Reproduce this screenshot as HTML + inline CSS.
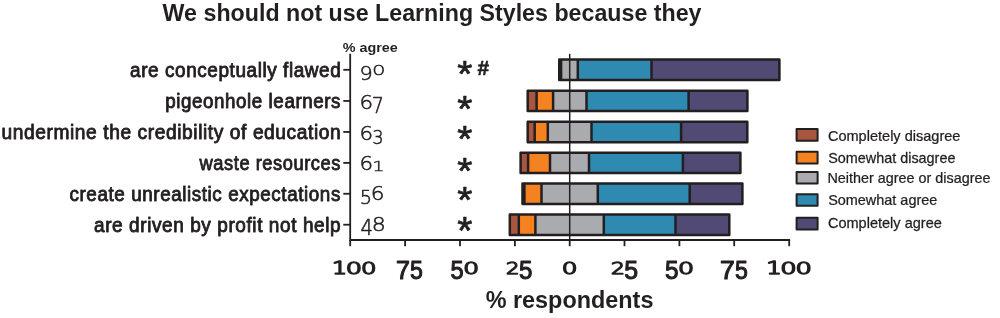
<!DOCTYPE html>
<html><head><meta charset="utf-8"><title>We should not use Learning Styles because they</title>
<style>html,body{margin:0;padding:0;background:#fff}svg{display:block}text{fill:#231f20}</style></head>
<body><svg width="1000" height="318" viewBox="0 0 1000 318">
<rect width="1000" height="318" fill="#fff"/>
<rect x="559.25" y="59.60" width="1.35" height="20.40" fill="#a8563f"/>
<rect x="560.60" y="59.60" width="0.50" height="20.40" fill="#f58220"/>
<rect x="561.10" y="59.60" width="16.70" height="20.40" fill="#a9abae"/>
<rect x="577.80" y="59.60" width="73.70" height="20.40" fill="#2e8ab0"/>
<rect x="651.50" y="59.60" width="127.90" height="20.40" fill="#514a75"/>
<line x1="560.60" y1="59.60" x2="560.60" y2="80.00" stroke="#231f20" stroke-width="2.5"/>
<line x1="561.10" y1="59.60" x2="561.10" y2="80.00" stroke="#231f20" stroke-width="2.5"/>
<line x1="577.80" y1="59.60" x2="577.80" y2="80.00" stroke="#231f20" stroke-width="2.5"/>
<line x1="651.50" y1="59.60" x2="651.50" y2="80.00" stroke="#231f20" stroke-width="2.5"/>
<rect x="559.25" y="59.60" width="220.15" height="20.40" fill="none" stroke="#231f20" stroke-width="2.5" stroke-linejoin="round"/>
<rect x="527.70" y="90.80" width="8.90" height="20.30" fill="#a8563f"/>
<rect x="536.60" y="90.80" width="16.50" height="20.30" fill="#f58220"/>
<rect x="553.10" y="90.80" width="33.40" height="20.30" fill="#a9abae"/>
<rect x="586.50" y="90.80" width="102.10" height="20.30" fill="#2e8ab0"/>
<rect x="688.60" y="90.80" width="58.80" height="20.30" fill="#514a75"/>
<line x1="536.60" y1="90.80" x2="536.60" y2="111.10" stroke="#231f20" stroke-width="2.5"/>
<line x1="553.10" y1="90.80" x2="553.10" y2="111.10" stroke="#231f20" stroke-width="2.5"/>
<line x1="586.50" y1="90.80" x2="586.50" y2="111.10" stroke="#231f20" stroke-width="2.5"/>
<line x1="688.60" y1="90.80" x2="688.60" y2="111.10" stroke="#231f20" stroke-width="2.5"/>
<rect x="527.70" y="90.80" width="219.70" height="20.30" fill="none" stroke="#231f20" stroke-width="2.5" stroke-linejoin="round"/>
<rect x="527.70" y="121.70" width="7.00" height="20.50" fill="#a8563f"/>
<rect x="534.70" y="121.70" width="13.10" height="20.50" fill="#f58220"/>
<rect x="547.80" y="121.70" width="43.70" height="20.50" fill="#a9abae"/>
<rect x="591.50" y="121.70" width="89.60" height="20.50" fill="#2e8ab0"/>
<rect x="681.10" y="121.70" width="66.20" height="20.50" fill="#514a75"/>
<line x1="534.70" y1="121.70" x2="534.70" y2="142.20" stroke="#231f20" stroke-width="2.5"/>
<line x1="547.80" y1="121.70" x2="547.80" y2="142.20" stroke="#231f20" stroke-width="2.5"/>
<line x1="591.50" y1="121.70" x2="591.50" y2="142.20" stroke="#231f20" stroke-width="2.5"/>
<line x1="681.10" y1="121.70" x2="681.10" y2="142.20" stroke="#231f20" stroke-width="2.5"/>
<rect x="527.70" y="121.70" width="219.60" height="20.50" fill="none" stroke="#231f20" stroke-width="2.5" stroke-linejoin="round"/>
<rect x="520.60" y="152.80" width="7.50" height="20.20" fill="#a8563f"/>
<rect x="528.10" y="152.80" width="21.90" height="20.20" fill="#f58220"/>
<rect x="550.00" y="152.80" width="39.00" height="20.20" fill="#a9abae"/>
<rect x="589.00" y="152.80" width="93.90" height="20.20" fill="#2e8ab0"/>
<rect x="682.90" y="152.80" width="57.50" height="20.20" fill="#514a75"/>
<line x1="528.10" y1="152.80" x2="528.10" y2="173.00" stroke="#231f20" stroke-width="2.5"/>
<line x1="550.00" y1="152.80" x2="550.00" y2="173.00" stroke="#231f20" stroke-width="2.5"/>
<line x1="589.00" y1="152.80" x2="589.00" y2="173.00" stroke="#231f20" stroke-width="2.5"/>
<line x1="682.90" y1="152.80" x2="682.90" y2="173.00" stroke="#231f20" stroke-width="2.5"/>
<rect x="520.60" y="152.80" width="219.80" height="20.20" fill="none" stroke="#231f20" stroke-width="2.5" stroke-linejoin="round"/>
<rect x="522.50" y="183.50" width="1.90" height="20.50" fill="#a8563f"/>
<rect x="524.40" y="183.50" width="17.10" height="20.50" fill="#f58220"/>
<rect x="541.50" y="183.50" width="56.30" height="20.50" fill="#a9abae"/>
<rect x="597.80" y="183.50" width="91.90" height="20.50" fill="#2e8ab0"/>
<rect x="689.70" y="183.50" width="52.70" height="20.50" fill="#514a75"/>
<line x1="524.40" y1="183.50" x2="524.40" y2="204.00" stroke="#231f20" stroke-width="2.5"/>
<line x1="541.50" y1="183.50" x2="541.50" y2="204.00" stroke="#231f20" stroke-width="2.5"/>
<line x1="597.80" y1="183.50" x2="597.80" y2="204.00" stroke="#231f20" stroke-width="2.5"/>
<line x1="689.70" y1="183.50" x2="689.70" y2="204.00" stroke="#231f20" stroke-width="2.5"/>
<rect x="522.50" y="183.50" width="219.90" height="20.50" fill="none" stroke="#231f20" stroke-width="2.5" stroke-linejoin="round"/>
<rect x="509.80" y="214.40" width="9.00" height="20.60" fill="#a8563f"/>
<rect x="518.80" y="214.40" width="16.60" height="20.60" fill="#f58220"/>
<rect x="535.40" y="214.40" width="68.40" height="20.60" fill="#a9abae"/>
<rect x="603.80" y="214.40" width="71.70" height="20.60" fill="#2e8ab0"/>
<rect x="675.50" y="214.40" width="53.80" height="20.60" fill="#514a75"/>
<line x1="518.80" y1="214.40" x2="518.80" y2="235.00" stroke="#231f20" stroke-width="2.5"/>
<line x1="535.40" y1="214.40" x2="535.40" y2="235.00" stroke="#231f20" stroke-width="2.5"/>
<line x1="603.80" y1="214.40" x2="603.80" y2="235.00" stroke="#231f20" stroke-width="2.5"/>
<line x1="675.50" y1="214.40" x2="675.50" y2="235.00" stroke="#231f20" stroke-width="2.5"/>
<rect x="509.80" y="214.40" width="219.50" height="20.60" fill="none" stroke="#231f20" stroke-width="2.5" stroke-linejoin="round"/>
<path d="M350.2 54.6 V240 H789.2" fill="none" stroke="#231f20" stroke-width="1.8" stroke-linecap="square"/>
<line x1="350.2" y1="240" x2="350.2" y2="246.2" stroke="#231f20" stroke-width="1.8"/>
<line x1="405.1" y1="240" x2="405.1" y2="246.2" stroke="#231f20" stroke-width="1.8"/>
<line x1="460.0" y1="240" x2="460.0" y2="246.2" stroke="#231f20" stroke-width="1.8"/>
<line x1="514.9" y1="240" x2="514.9" y2="246.2" stroke="#231f20" stroke-width="1.8"/>
<line x1="569.7" y1="240" x2="569.7" y2="246.2" stroke="#231f20" stroke-width="1.8"/>
<line x1="624.5" y1="240" x2="624.5" y2="246.2" stroke="#231f20" stroke-width="1.8"/>
<line x1="679.4" y1="240" x2="679.4" y2="246.2" stroke="#231f20" stroke-width="1.8"/>
<line x1="734.2" y1="240" x2="734.2" y2="246.2" stroke="#231f20" stroke-width="1.8"/>
<line x1="789.2" y1="240" x2="789.2" y2="246.2" stroke="#231f20" stroke-width="1.8"/>
<line x1="343.3" y1="69.80" x2="350.2" y2="69.80" stroke="#231f20" stroke-width="1.8"/>
<line x1="343.3" y1="100.95" x2="350.2" y2="100.95" stroke="#231f20" stroke-width="1.8"/>
<line x1="343.3" y1="131.95" x2="350.2" y2="131.95" stroke="#231f20" stroke-width="1.8"/>
<line x1="343.3" y1="162.90" x2="350.2" y2="162.90" stroke="#231f20" stroke-width="1.8"/>
<line x1="343.3" y1="193.75" x2="350.2" y2="193.75" stroke="#231f20" stroke-width="1.8"/>
<line x1="343.3" y1="224.70" x2="350.2" y2="224.70" stroke="#231f20" stroke-width="1.8"/>
<line x1="569.7" y1="53.8" x2="569.7" y2="240" stroke="#231f20" stroke-width="1.5"/>
<rect x="796.6" y="129.1" width="21" height="11.6" fill="#a8563f" stroke="#231f20" stroke-width="2" stroke-linejoin="round"/>
<rect x="796.6" y="151.8" width="21" height="11.6" fill="#f58220" stroke="#231f20" stroke-width="2" stroke-linejoin="round"/>
<rect x="796.6" y="172.0" width="21" height="11.6" fill="#a9abae" stroke="#231f20" stroke-width="2" stroke-linejoin="round"/>
<rect x="796.6" y="194.2" width="21" height="11.6" fill="#2e8ab0" stroke="#231f20" stroke-width="2" stroke-linejoin="round"/>
<rect x="796.6" y="217.8" width="21" height="11.6" fill="#514a75" stroke="#231f20" stroke-width="2" stroke-linejoin="round"/>
<text transform="translate(162.60 21.00) scale(1.0281 1.0500)" font-family='"Liberation Sans", sans-serif' font-weight="bold" font-size="22.60">We should not use Learning Styles because they</text>
<text transform="translate(485.63 308.40) scale(1.0365 1.0500)" font-family='"Liberation Sans", sans-serif' font-weight="bold" font-size="22.60">% respondents</text>
<text transform="translate(342.78 51.70) scale(1.1047 1.0000)" font-family='"Liberation Sans", sans-serif' font-weight="bold" font-size="13.00">% agree</text>
<text transform="translate(130.01 77.20) scale(0.9675 1.0000)" font-family='"Liberation Sans", sans-serif' font-weight="normal" font-size="19.60" stroke="#231f20" stroke-width="0.85" stroke-linejoin="round" letter-spacing="0.6">are conceptually flawed</text>
<text transform="translate(165.23 108.00) scale(0.9579 1.0000)" font-family='"Liberation Sans", sans-serif' font-weight="normal" font-size="19.60" stroke="#231f20" stroke-width="0.85" stroke-linejoin="round" letter-spacing="0.6">pigeonhole learners</text>
<text transform="translate(1.50 138.90) scale(0.9786 1.0000)" font-family='"Liberation Sans", sans-serif' font-weight="normal" font-size="19.60" stroke="#231f20" stroke-width="0.85" stroke-linejoin="round" letter-spacing="0.6">undermine the credibility of education</text>
<text transform="translate(199.59 169.70) scale(0.9324 1.0000)" font-family='"Liberation Sans", sans-serif' font-weight="normal" font-size="19.60" stroke="#231f20" stroke-width="0.85" stroke-linejoin="round" letter-spacing="0.6">waste resources</text>
<text transform="translate(69.51 200.70) scale(0.9621 1.0000)" font-family='"Liberation Sans", sans-serif' font-weight="normal" font-size="19.60" stroke="#231f20" stroke-width="0.85" stroke-linejoin="round" letter-spacing="0.6">create unrealistic expectations</text>
<text transform="translate(94.01 231.60) scale(0.9699 1.0000)" font-family='"Liberation Sans", sans-serif' font-weight="normal" font-size="19.60" stroke="#231f20" stroke-width="0.85" stroke-linejoin="round" letter-spacing="0.6">are driven by profit not help</text>
<text transform="translate(827.92 140.50) scale(1.0249 1.0000)" font-family='"Liberation Sans", sans-serif' font-weight="normal" font-size="14.20" stroke="#231f20" stroke-width="0.25" stroke-linejoin="round">Completely disagree</text>
<text transform="translate(828.15 162.50) scale(1.0146 1.0000)" font-family='"Liberation Sans", sans-serif' font-weight="normal" font-size="14.20" stroke="#231f20" stroke-width="0.25" stroke-linejoin="round">Somewhat disagree</text>
<text transform="translate(827.48 183.20) scale(1.0136 1.0000)" font-family='"Liberation Sans", sans-serif' font-weight="normal" font-size="14.20" stroke="#231f20" stroke-width="0.25" stroke-linejoin="round">Neither agree or disagree</text>
<text transform="translate(828.15 205.30) scale(1.0176 1.0000)" font-family='"Liberation Sans", sans-serif' font-weight="normal" font-size="14.20" stroke="#231f20" stroke-width="0.25" stroke-linejoin="round">Somewhat agree</text>
<text transform="translate(827.92 228.40) scale(1.0241 1.0000)" font-family='"Liberation Sans", sans-serif' font-weight="normal" font-size="14.20" stroke="#231f20" stroke-width="0.25" stroke-linejoin="round">Completely agree</text>
<text transform="translate(331.94 273.75) scale(1.1877 0.8578)" font-family='"DejaVu Sans", sans-serif' font-weight="200" font-size="20.00" stroke="#231f20" stroke-width="1.75" stroke-linejoin="round">1</text><text transform="translate(345.82 273.53) scale(1.2854 0.8205)" font-family='"DejaVu Sans", sans-serif' font-weight="200" font-size="20.00" stroke="#231f20" stroke-width="1.75" stroke-linejoin="round">0</text><text transform="translate(360.96 273.53) scale(1.2225 0.8205)" font-family='"DejaVu Sans", sans-serif' font-weight="200" font-size="20.00" stroke="#231f20" stroke-width="1.75" stroke-linejoin="round">0</text>
<text transform="translate(395.96 279.17) scale(1.2518 1.2540)" font-family='"Liberation Sans", sans-serif' font-weight="normal" font-size="20.00" stroke="#231f20" stroke-width="0.85" stroke-linejoin="round">7</text><text transform="translate(409.97 279.36) scale(1.1578 1.2808)" font-family='"Liberation Sans", sans-serif' font-weight="normal" font-size="20.00" stroke="#231f20" stroke-width="0.85" stroke-linejoin="round">5</text>
<text transform="translate(450.56 279.36) scale(1.1767 1.2808)" font-family='"Liberation Sans", sans-serif' font-weight="normal" font-size="20.00" stroke="#231f20" stroke-width="0.85" stroke-linejoin="round">5</text><text transform="translate(463.14 273.53) scale(1.2494 0.8205)" font-family='"DejaVu Sans", sans-serif' font-weight="200" font-size="20.00" stroke="#231f20" stroke-width="1.75" stroke-linejoin="round">0</text>
<text transform="translate(505.90 273.67) scale(1.0579 0.8299)" font-family='"DejaVu Sans", sans-serif' font-weight="200" font-size="20.00" stroke="#231f20" stroke-width="1.75" stroke-linejoin="round">2</text><text transform="translate(519.06 279.36) scale(1.2052 1.2808)" font-family='"Liberation Sans", sans-serif' font-weight="normal" font-size="20.00" stroke="#231f20" stroke-width="0.85" stroke-linejoin="round">5</text>
<text transform="translate(561.85 273.53) scale(1.2404 0.8205)" font-family='"DejaVu Sans", sans-serif' font-weight="200" font-size="20.00" stroke="#231f20" stroke-width="1.75" stroke-linejoin="round">0</text>
<text transform="translate(610.99 273.67) scale(1.0929 0.8299)" font-family='"DejaVu Sans", sans-serif' font-weight="200" font-size="20.00" stroke="#231f20" stroke-width="1.75" stroke-linejoin="round">2</text><text transform="translate(624.35 279.36) scale(1.2432 1.2808)" font-family='"Liberation Sans", sans-serif' font-weight="normal" font-size="20.00" stroke="#231f20" stroke-width="0.85" stroke-linejoin="round">5</text>
<text transform="translate(665.06 279.36) scale(1.2147 1.2808)" font-family='"Liberation Sans", sans-serif' font-weight="normal" font-size="20.00" stroke="#231f20" stroke-width="0.85" stroke-linejoin="round">5</text><text transform="translate(678.03 273.53) scale(1.2674 0.8205)" font-family='"DejaVu Sans", sans-serif' font-weight="200" font-size="20.00" stroke="#231f20" stroke-width="1.75" stroke-linejoin="round">0</text>
<text transform="translate(720.12 279.17) scale(1.3301 1.2540)" font-family='"Liberation Sans", sans-serif' font-weight="normal" font-size="20.00" stroke="#231f20" stroke-width="0.85" stroke-linejoin="round">7</text><text transform="translate(734.97 279.36) scale(1.1578 1.2808)" font-family='"Liberation Sans", sans-serif' font-weight="normal" font-size="20.00" stroke="#231f20" stroke-width="0.85" stroke-linejoin="round">5</text>
<text transform="translate(766.20 273.75) scale(1.2172 0.8578)" font-family='"DejaVu Sans", sans-serif' font-weight="200" font-size="20.00" stroke="#231f20" stroke-width="1.75" stroke-linejoin="round">1</text><text transform="translate(780.21 273.53) scale(1.2944 0.8205)" font-family='"DejaVu Sans", sans-serif' font-weight="200" font-size="20.00" stroke="#231f20" stroke-width="1.75" stroke-linejoin="round">0</text><text transform="translate(795.41 273.53) scale(1.2944 0.8205)" font-family='"DejaVu Sans", sans-serif' font-weight="200" font-size="20.00" stroke="#231f20" stroke-width="1.75" stroke-linejoin="round">0</text>
<text transform="translate(359.42 80.01) scale(1.0479 1.0087)" font-family='"DejaVu Sans", sans-serif' font-weight="200" font-size="20.00" stroke="#231f20" stroke-width="0.55" stroke-linejoin="round">9</text><text transform="translate(372.12 75.29) scale(1.0680 0.6935)" font-family='"DejaVu Sans", sans-serif' font-weight="200" font-size="20.00" stroke="#231f20" stroke-width="0.55" stroke-linejoin="round">0</text>
<text transform="translate(359.39 108.91) scale(1.0680 1.0087)" font-family='"DejaVu Sans", sans-serif' font-weight="200" font-size="20.00" stroke="#231f20" stroke-width="0.55" stroke-linejoin="round">6</text><text transform="translate(371.67 113.32) scale(0.9571 1.0304)" font-family='"DejaVu Sans", sans-serif' font-weight="200" font-size="20.00" stroke="#231f20" stroke-width="0.55" stroke-linejoin="round">7</text>
<text transform="translate(359.39 139.71) scale(1.0680 1.0087)" font-family='"DejaVu Sans", sans-serif' font-weight="200" font-size="20.00" stroke="#231f20" stroke-width="0.55" stroke-linejoin="round">6</text><text transform="translate(372.33 143.82) scale(0.8967 0.9898)" font-family='"DejaVu Sans", sans-serif' font-weight="200" font-size="20.00" stroke="#231f20" stroke-width="0.55" stroke-linejoin="round">3</text>
<text transform="translate(359.39 170.31) scale(1.0680 1.0024)" font-family='"DejaVu Sans", sans-serif' font-weight="200" font-size="20.00" stroke="#231f20" stroke-width="0.55" stroke-linejoin="round">6</text><text transform="translate(371.98 170.50) scale(1.0014 0.7350)" font-family='"DejaVu Sans", sans-serif' font-weight="200" font-size="20.00" stroke="#231f20" stroke-width="0.55" stroke-linejoin="round">1</text>
<text transform="translate(359.75 204.01) scale(0.9677 1.0096)" font-family='"DejaVu Sans", sans-serif' font-weight="200" font-size="20.00" stroke="#231f20" stroke-width="0.55" stroke-linejoin="round">5</text><text transform="translate(370.68 199.81) scale(1.0781 1.0087)" font-family='"DejaVu Sans", sans-serif' font-weight="200" font-size="20.00" stroke="#231f20" stroke-width="0.55" stroke-linejoin="round">6</text>
<text transform="translate(360.45 235.12) scale(0.9758 1.0172)" font-family='"DejaVu Sans", sans-serif' font-weight="200" font-size="20.00" stroke="#231f20" stroke-width="0.55" stroke-linejoin="round">4</text><text transform="translate(371.74 230.81) scale(1.1027 1.0087)" font-family='"DejaVu Sans", sans-serif' font-weight="200" font-size="20.00" stroke="#231f20" stroke-width="0.55" stroke-linejoin="round">8</text>
<text transform="translate(457.25 86.69) scale(1.9451 1.8170)" font-family='"Liberation Sans", sans-serif' font-weight="normal" font-size="20.00" stroke="#231f20" stroke-width="0.37" stroke-linejoin="round">*</text>
<text transform="translate(457.25 121.93) scale(1.9451 1.8551)" font-family='"Liberation Sans", sans-serif' font-weight="normal" font-size="20.00" stroke="#231f20" stroke-width="0.37" stroke-linejoin="round">*</text>
<text transform="translate(457.25 152.13) scale(1.9451 1.8551)" font-family='"Liberation Sans", sans-serif' font-weight="normal" font-size="20.00" stroke="#231f20" stroke-width="0.37" stroke-linejoin="round">*</text>
<text transform="translate(457.25 183.71) scale(1.9451 1.8679)" font-family='"Liberation Sans", sans-serif' font-weight="normal" font-size="20.00" stroke="#231f20" stroke-width="0.37" stroke-linejoin="round">*</text>
<text transform="translate(457.25 213.09) scale(1.9451 1.8806)" font-family='"Liberation Sans", sans-serif' font-weight="normal" font-size="20.00" stroke="#231f20" stroke-width="0.37" stroke-linejoin="round">*</text>
<text transform="translate(457.25 243.80) scale(1.9451 1.9441)" font-family='"Liberation Sans", sans-serif' font-weight="normal" font-size="20.00" stroke="#231f20" stroke-width="0.37" stroke-linejoin="round">*</text>
<text transform="translate(477.49 75.00) scale(1.0423 0.9895)" font-family='"Liberation Sans", sans-serif' font-weight="bold" font-size="20.00" stroke="#231f20" stroke-width="0.6" stroke-linejoin="round">#</text>
</svg></body></html>
